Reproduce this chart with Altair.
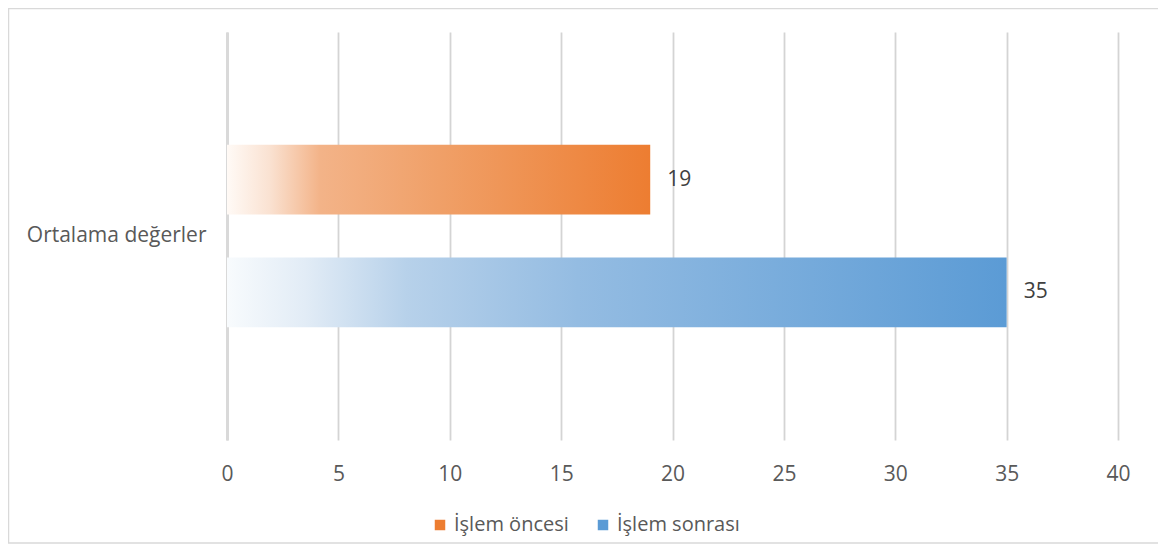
import altair as alt
import pandas as pd

categories = ["Ortalama değerler", "Ortalama değerler"]
series = ["İşlem öncesi", "İşlem sonrası"]
values = [19, 35]
x_ticks = [0, 5, 10, 15, 20, 25, 30, 35, 40]

df = pd.DataFrame({"cat": categories, "series": series, "value": values})

FONT = "Open Sans"
TXT = "#595959"

orange_grad = alt.Gradient(
    gradient="linear", x1=0, x2=1, y1=0, y2=0,
    stops=[
        alt.GradientStop(color="#fffaf6", offset=0),
        alt.GradientStop(color="#fae2d2", offset=0.1),
        alt.GradientStop(color="#f3b388", offset=0.22),
        alt.GradientStop(color="#f0a068", offset=0.5),
        alt.GradientStop(color="#ed7d31", offset=1),
    ],
)
blue_grad = alt.Gradient(
    gradient="linear", x1=0, x2=1, y1=0, y2=0,
    stops=[
        alt.GradientStop(color="#f8fbfd", offset=0),
        alt.GradientStop(color="#e2ecf6", offset=0.1),
        alt.GradientStop(color="#b7d1ea", offset=0.23),
        alt.GradientStop(color="#94bce2", offset=0.45),
        alt.GradientStop(color="#5b9bd5", offset=1),
    ],
)

x_enc = alt.X(
    "value:Q",
    scale=alt.Scale(domain=[0, 40], nice=False),
    axis=alt.Axis(
        values=x_ticks, title=None, domain=False, ticks=False,
        grid=True, gridColor="#d4d4d4", gridWidth=1.8,
        labelFont=FONT, labelFontSize=21, labelColor=TXT, labelPadding=23,
        labelFlush=False,
    ),
)
y_enc = alt.Y(
    "cat:N",
    scale=alt.Scale(paddingInner=0, paddingOuter=0),
    axis=alt.Axis(
        title=None, ticks=False, domain=True, domainColor="#d9d9d9", domainWidth=3,
        labelFont=FONT, labelFontSize=21, labelColor=TXT, labelPadding=21,
    ),
)
yoff_enc = alt.YOffset(
    "series:N",
    scale=alt.Scale(domain=series, paddingInner=0.38, paddingOuter=1),
)

base = alt.Chart(df).encode(x=x_enc, y=y_enc, yOffset=yoff_enc)

legend_layer = base.mark_bar(opacity=0).encode(
    color=alt.Color(
        "series:N",
        scale=alt.Scale(domain=series, range=["#ed7d31", "#5b9bd5"]),
        legend=alt.Legend(
            title=None, orient="none", direction="horizontal",
            legendX=203, legendY=483,
            symbolType="square", symbolSize=110, symbolOpacity=1,
            symbolStrokeWidth=0,
            labelFont=FONT, labelFontSize=20, labelColor=TXT,
            labelOffset=4, columnPadding=24,
        ),
    )
)

orange_bar = base.mark_bar(color=orange_grad).transform_filter(
    alt.datum.series == series[0]
)
blue_bar = base.mark_bar(color=blue_grad).transform_filter(
    alt.datum.series == series[1]
)

labels = base.mark_text(
    align="left", baseline="middle", dx=17, font=FONT, fontSize=21, color="#404040"
).encode(text="value:Q")

frame = alt.Chart(df).mark_rect(
    fill=None, stroke="#d9d9d9", strokeWidth=1.5
).encode(
    x=alt.value(-218.5), x2=alt.value(933), y=alt.value(-23.5), y2=alt.value(511)
).transform_filter(alt.datum.series == series[0])

chart = alt.layer(frame, legend_layer, orange_bar, blue_bar, labels).properties(
    width=891, height=408,
    autosize=alt.AutoSizeParams(type="none"),
    padding={"left": 219, "top": 24, "right": 40, "bottom": 112},
).configure_view(stroke=None)

chart.save("out.html", embed_options={"renderer": "svg", "actions": False})
